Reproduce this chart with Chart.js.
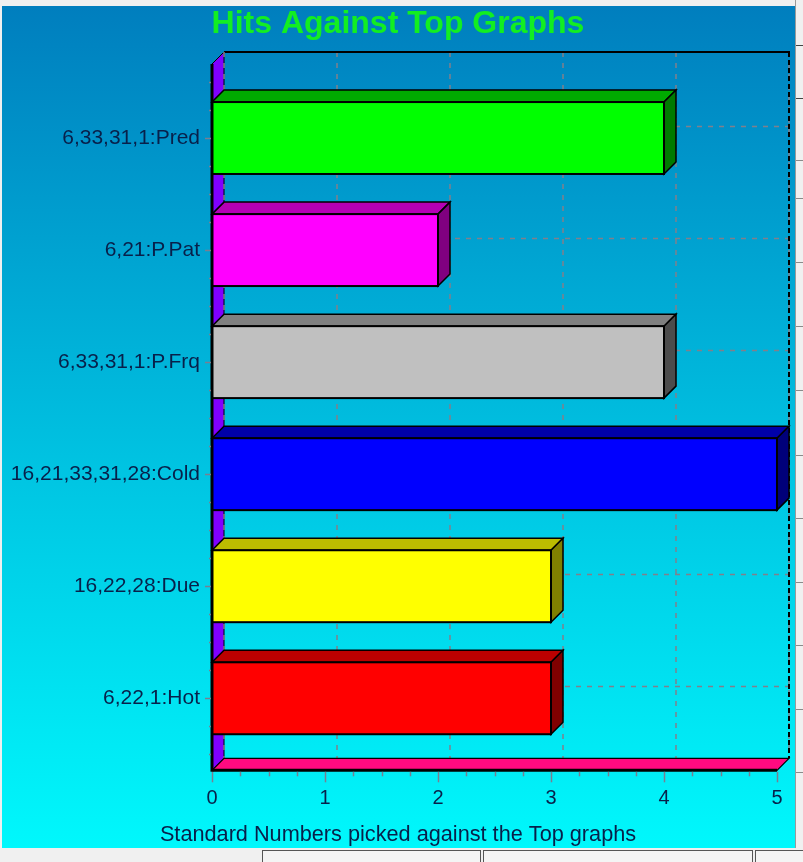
<!DOCTYPE html>
<html><head><meta charset="utf-8">
<script src="https://cdn.jsdelivr.net/npm/chart.js@4/dist/chart.umd.min.js"></script>
<style>
html,body{margin:0;padding:0;background:#f0f0f0;width:803px;height:862px;overflow:hidden;font-family:"Liberation Sans",Arial,sans-serif}
#wrap{position:absolute;left:2px;top:6px;width:793px;height:842px;background:linear-gradient(to bottom,rgb(0,126,190) 0%,rgb(0,196,226) 55%,rgb(0,248,252) 100%)}
canvas{display:block}
#rstrip{position:absolute;left:795px;top:0;width:8px;height:848px;background:#f0f0f0;border-left:1px solid #9a9a9a;box-sizing:border-box}
.rline{position:absolute;left:796px;width:7px;height:1px;background:#8a8a8a}
#bstrip{position:absolute;left:0;top:848px;width:803px;height:14px;background:#f0f0f0}
.tab{position:absolute;top:850px;height:14px;border-top:1px solid #555;border-left:1px solid #555;border-right:1px solid #555;background:#f4f4f4;box-sizing:border-box}
</style></head>
<body>
<div id="wrap"><canvas id="c" width="793" height="842"></canvas></div>
<div id="rstrip"></div>
<div class="rline" style="top:45px;background:#444"></div>
<div class="rline" style="top:98px;background:#444"></div>
<div class="rline" style="top:160px"></div>
<div class="rline" style="top:198px"></div>
<div class="rline" style="top:262px"></div>
<div class="rline" style="top:326px"></div>
<div class="rline" style="top:390px"></div>
<div class="rline" style="top:455px"></div>
<div class="rline" style="top:518px"></div>
<div class="rline" style="top:582px"></div>
<div class="rline" style="top:645px"></div>
<div class="rline" style="top:709px"></div>
<div class="rline" style="top:772px"></div>
<div id="bstrip"></div>
<div class="tab" style="left:262px;width:219px"></div>
<div class="tab" style="left:483px;width:270px"></div>
<div class="tab" style="left:755px;width:50px"></div>
<script>
// ---- data ----
const categories = ['6,33,31,1:Pred','6,21:P.Pat','6,33,31,1:P.Frq','16,21,33,31,28:Cold','16,22,28:Due','6,22,1:Hot'];
const hits = [4, 2, 4, 5, 3, 3];
const xTicks = [0, 1, 2, 3, 4, 5];
const titleText = 'Hits Against Top Graphs';
const axisTitle = 'Standard Numbers picked against the Top graphs';

// ---- styles ----
const frontColors = ['#00ff00','#ff00ff','#c0c0c0','#0000ff','#ffff00','#ff0000'];
const topColors   = ['#00aa00','#b400b4','#808080','#0000a8','#bcbc00','#bc0000'];
const sideColors  = ['#007a00','#800080','#4c4c4c','#00007a','#808000','#800000'];
const FONT = '"Liberation Sans", Arial, sans-serif';
const GRID = '#80808c';
const D = 12;

function line(ctx,x1,y1,x2,y2){ctx.beginPath();ctx.moveTo(x1,y1);ctx.lineTo(x2,y2);ctx.stroke();}
function poly(ctx,pts,fill,stroke,lw){
  ctx.beginPath();ctx.moveTo(pts[0][0],pts[0][1]);
  for(let i=1;i<pts.length;i++)ctx.lineTo(pts[i][0],pts[i][1]);
  ctx.closePath();
  if(fill){ctx.fillStyle=fill;ctx.fill();}
  if(stroke){ctx.strokeStyle=stroke;ctx.lineWidth=lw||1;ctx.stroke();}
}

const threeD = {
  id:'threeD',
  afterLayout(chart){ chart.scales.y.left = 0; },
  beforeDatasetsDraw(chart){
    const ctx=chart.ctx,a=chart.chartArea,xs=chart.scales.x,ys=chart.scales.y;
    const L=a.left,R=a.right,T=a.top-18,B=a.bottom+16;
    ctx.save();
    // back wall grid
    ctx.strokeStyle=GRID;ctx.lineWidth=1.5;ctx.setLineDash([5,6]);
    xTicks.forEach(v=>{const px=Math.round(xs.getPixelForValue(v))+D;line(ctx,px,T-D,px,B-D);});
    categories.forEach((c,i)=>{const py=Math.round(ys.getPixelForValue(i))-D+0.5;line(ctx,L+D,py,R+D,py);});
    // back wall right dashed edge and top edge
    ctx.strokeStyle='#000';ctx.setLineDash([5,3]);ctx.lineWidth=2;
    line(ctx,R+D,T-D,R+D,B-D);
    ctx.setLineDash([]);ctx.lineWidth=2;
    line(ctx,L+D,T-D,R+D+1,T-D);
    // left wall
    poly(ctx,[[L,T],[L+D,T-D],[L+D,B-D],[L,B]],'#8000ff','#000',1);
    ctx.strokeStyle=GRID;ctx.lineWidth=1.5;ctx.setLineDash([5,6]);
    line(ctx,L+D,T-D,L+D,B-D);
    ctx.setLineDash([]);
    // floor
    poly(ctx,[[L,B],[L+D,B-D],[R+D,B-D],[R,B]],'#ff0a80','#000',1.2);
    ctx.restore();
  },
  afterDatasetsDraw(chart){
    const ctx=chart.ctx,a=chart.chartArea,xs=chart.scales.x,ys=chart.scales.y;
    const L=a.left,R=a.right,T=a.top-18,B=a.bottom+16;
    const meta=chart.getDatasetMeta(0);
    ctx.save();
    ctx.lineJoin='miter';
    meta.data.forEach((bar,i)=>{
      const x0=Math.min(bar.base,bar.x),x1=Math.max(bar.base,bar.x);
      const yt=bar.y-bar.height/2,yb=bar.y+bar.height/2;
      poly(ctx,[[x0,yt],[x1,yt],[x1+D,yt-D],[x0+D,yt-D]],topColors[i],'#000',1.5);
      poly(ctx,[[x1,yt],[x1+D,yt-D],[x1+D,yb-D],[x1,yb]],sideColors[i],'#000',1.5);
      ctx.strokeStyle='#000';ctx.lineWidth=2;
      ctx.strokeRect(x0,yt,x1-x0,yb-yt);
    });
    // front axis lines
    ctx.strokeStyle='#000';ctx.lineWidth=3;
    line(ctx,L,T,L,B+1.5);
    line(ctx,L,B,R,B);
    // x ticks (quarter steps)
    ctx.strokeStyle='#7a7e90';ctx.lineWidth=1.5;
    for(let v=xTicks[0];v<=xTicks[xTicks.length-1]+1e-9;v+=0.25){
      const px=Math.round(xs.getPixelForValue(v))+0.5;
      const major=Math.abs(v-Math.round(v))<1e-6;
      line(ctx,px,B+1.5,px,B+(major?12:6));
    }
    // y ticks (quarter steps)
    const step=ys.getPixelForValue(1)-ys.getPixelForValue(0);
    for(let k=0;k<=categories.length*4;k++){
      const py=Math.round(a.top+k*step/4)+0.5;
      const major=(k%4)===2;
      line(ctx,L-(major?7:3),py,L-1,py);
    }
    ctx.restore();
  }
};

new Chart(document.getElementById('c'),{
  type:'bar',
  data:{labels:categories,datasets:[{data:hits,backgroundColor:frontColors,borderColor:'#000',borderWidth:0,
    categoryPercentage:1.0,barPercentage:0.642}]},
  options:{
    indexAxis:'y',responsive:false,animation:false,devicePixelRatio:1,
    layout:{padding:{left:17,right:18,top:0,bottom:0}},
    plugins:{
      legend:{display:false},tooltip:{enabled:false},
      title:{display:true,text:titleText,color:'#12ee22',font:{family:FONT,size:32,weight:'bold',lineHeight:1},padding:{top:2,bottom:42}},
      subtitle:{display:true,position:'bottom',text:axisTitle,color:'#08204a',font:{family:FONT,size:21.7,lineHeight:1},padding:{top:0,bottom:2}}
    },
    scales:{
      x:{min:0,max:5,grid:{display:false,drawTicks:true,tickLength:32},border:{display:false},
        ticks:{stepSize:1,padding:0,color:'#08204a',font:{family:FONT,size:20}},
        afterFit(s){s.height=70;}},
      y:{grid:{display:false,drawTicks:true,tickLength:12},border:{display:false},
        ticks:{padding:0,color:'#08204a',font:{family:FONT,size:21}},
        afterFit(s){s.width=193;}}
    }
  },
  plugins:[threeD]
});
</script>
</body></html>
